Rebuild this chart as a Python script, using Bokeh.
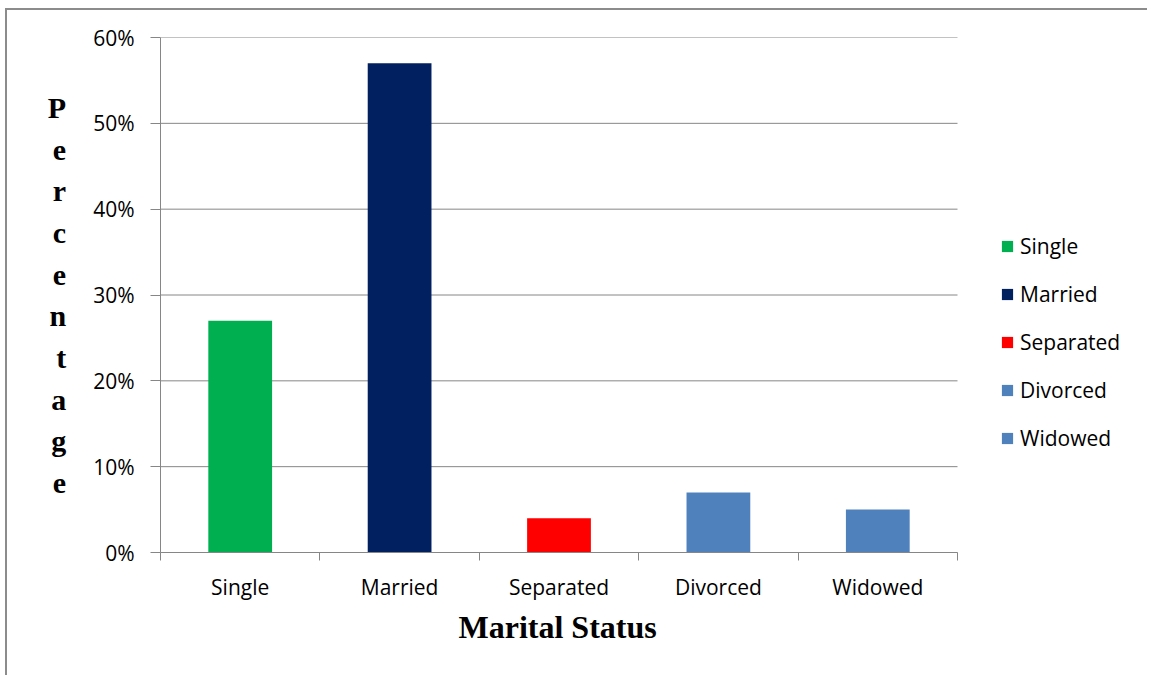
from bokeh.plotting import figure
from bokeh.models import Range1d, FixedTicker, LinearAxis, ColumnDataSource, Title
from bokeh.embed import file_html
from bokeh.resources import INLINE

categories = ["Single", "Married", "Separated", "Divorced", "Widowed"]
values = [27, 57, 4, 7, 5]
colors = ["#00B050", "#002060", "#FF0000", "#4F81BD", "#4F81BD"]
y_ticks = [0, 10, 20, 30, 40, 50, 60]
y_tick_labels = ["0%", "10%", "20%", "30%", "40%", "50%", "60%"]
y_title = "Percentage"
x_title = "Marital Status"

OFF_X, OFF_Y = 7, 10
W, H = 1149 - OFF_X, 677 - OFF_Y
N = len(categories)
# frame spans to the right edge; categories occupy 0..N (160..957 px), legend area beyond
x_end = N + (1149 - 957) / ((957 - 160) / N)
p = figure(width=W, height=H, output_backend="svg", toolbar_location=None,
           x_range=Range1d(0, x_end), y_range=Range1d(0, 60),
           min_border_left=160 - OFF_X, min_border_right=0, min_border_top=37 - OFF_Y,
           min_border_bottom=125)
p.outline_line_color = None
p.background_fill_color = "white"
p.border_fill_color = "white"
p.styles = {"margin-left": "5px", "margin-top": "8px",
            "border-left": "2px solid #8c8c8c", "border-top": "2px solid #8c8c8c"}

FONT = "Open Sans"
FS = "21px"
GRAY = "#868686"

# horizontal gridlines across the category area only
p.xgrid.grid_line_color = None
p.ygrid.grid_line_color = None
p.segment(x0=[0] * len(y_ticks), x1=[N] * len(y_ticks), y0=y_ticks, y1=y_ticks,
          line_color=GRAY, line_width=1)

src = ColumnDataSource(dict(x=[i + 0.5 for i in range(N)], top=values,
                            color=colors, cat=categories))
p.vbar(x="x", top="top", width=0.4, bottom=0, fill_color="color", line_color=None,
       source=src, legend_field="cat")

# y axis
yax = p.yaxis[0]
yax.ticker = FixedTicker(ticks=y_ticks)
yax.major_label_overrides = {t: l for t, l in zip(y_ticks, y_tick_labels)}
yax.major_label_text_font = FONT
yax.major_label_text_font_size = FS
yax.major_label_text_color = "black"
yax.axis_line_color = GRAY
yax.major_tick_line_color = GRAY
yax.major_tick_out = 10
yax.major_tick_in = 0
yax.minor_tick_line_color = None
yax.major_label_standoff = 16
yax.axis_label = "\n".join(y_title)
yax.axis_label_orientation = "horizontal"
yax.axis_label_text_font = "Liberation Serif"
yax.axis_label_text_font_style = "bold"
yax.axis_label_text_font_size = "30px"
yax.axis_label_text_color = "black"
yax.axis_label_text_line_height = 1.264
yax.axis_label_standoff = 24

# x axis: boundary ticks
xax = p.xaxis[0]
xax.bounds = (0, N)
xax.ticker = FixedTicker(ticks=list(range(N + 1)))
xax.major_label_text_font_size = "0px"
xax.major_label_overrides = {i: "" for i in range(N + 1)}
xax.axis_line_color = GRAY
xax.major_tick_line_color = GRAY
xax.major_tick_out = 8
xax.major_tick_in = 0
xax.minor_tick_line_color = None
xax.major_label_standoff = 0

# x axis: category labels
xax2 = LinearAxis(ticker=FixedTicker(ticks=[i + 0.5 for i in range(N)]), bounds=(0, N))
xax2.major_label_overrides = {i + 0.5: c for i, c in enumerate(categories)}
xax2.major_label_text_font = FONT
xax2.major_label_text_font_size = FS
xax2.major_label_text_color = "black"
xax2.axis_line_color = None
xax2.major_tick_line_color = None
xax2.minor_tick_line_color = None
xax2.major_label_standoff = 6
p.add_layout(xax2, "below")

# x title placed under the category area
p.add_layout(Title(text=x_title, align="left", offset=298,
                   text_font="Liberation Serif", text_font_style="bold",
                   text_font_size="32px", text_color="black", standoff=6), "below")

leg = p.legend[0]
leg.location = (840, 100)
leg.border_line_color = None
leg.background_fill_alpha = 0
leg.label_text_font = FONT
leg.label_text_font_size = FS
leg.label_text_color = "black"
leg.glyph_width = 14
leg.glyph_height = 14
leg.label_height = 20
leg.spacing = 20
leg.label_standoff = 6
leg.padding = 0
leg.margin = 0

open("out.html", "w").write(file_html(p, INLINE))
